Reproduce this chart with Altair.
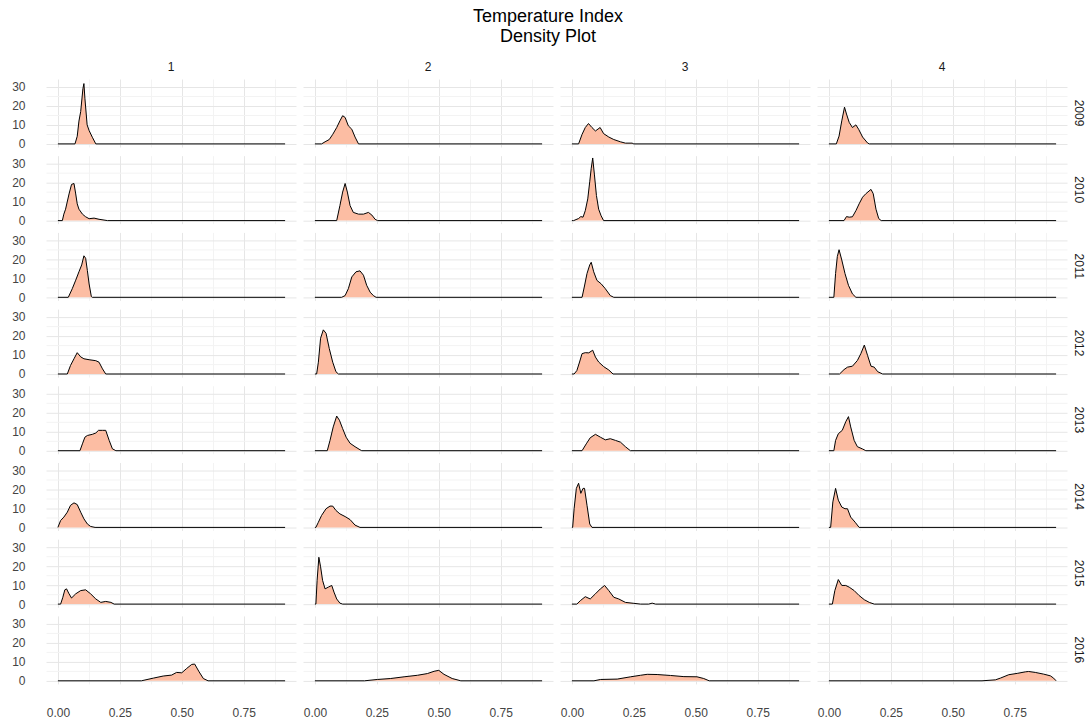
import altair as alt
import pandas as pd

YEARS = [2009, 2010, 2011, 2012, 2013, 2014, 2015, 2016]
QUARTERS = [1, 2, 3, 4]
XMIN, XMAX = 0.0, 0.917

# density curves: (x, density) per year / quarter
X_2009_1 = [0.069, 0.078, 0.085, 0.092, 0.101, 0.105, 0.109, 0.118, 0.126, 0.139, 0.153]
Y_2009_1 = [0, 4, 12, 17, 29, 31.7, 24, 10, 7, 3.5, 0]
X_2009_2 = [0.027, 0.041, 0.058, 0.072, 0.088, 0.101, 0.112, 0.122, 0.135, 0.149, 0.162, 0.176]
Y_2009_2 = [0, 1.1, 2.3, 5, 8.6, 12.1, 14.8, 13.9, 9.5, 7.7, 3.6, 0]
X_2009_3 = [0.027, 0.041, 0.054, 0.067, 0.081, 0.095, 0.114, 0.128, 0.149, 0.169, 0.196, 0.216, 0.243, 0.25]
Y_2009_3 = [0, 5, 8.6, 10.7, 8.6, 6.8, 8.6, 5.4, 3.6, 2.3, 1.1, 0.4, 0.4, 0]
X_2009_4 = [0.03, 0.041, 0.052, 0.063, 0.071, 0.082, 0.095, 0.109, 0.12, 0.136, 0.156, 0.163]
Y_2009_4 = [0, 4.1, 12.1, 19.3, 15.7, 11.3, 8.6, 10, 7.7, 3.6, 0.5, 0]

X_2010_1 = [0.018, 0.024, 0.031, 0.045, 0.055, 0.065, 0.072, 0.078, 0.085, 0.099, 0.112, 0.126, 0.146, 0.166, 0.2]
Y_2010_1 = [0, 3.4, 6, 14, 19, 19.5, 14, 8.8, 6, 3.4, 2, 1, 1.3, 0.7, 0]
X_2010_2 = [0.088, 0.101, 0.112, 0.122, 0.131, 0.142, 0.155, 0.176, 0.196, 0.216, 0.23, 0.243, 0.253]
Y_2010_2 = [0, 7.9, 15, 19.5, 15, 7.9, 4.3, 3.4, 3.4, 4.3, 2.9, 0.7, 0]
X_2010_3 = [0.007, 0.027, 0.036, 0.045, 0.054, 0.064, 0.072, 0.078, 0.084, 0.091, 0.099, 0.108, 0.118, 0.128]
Y_2010_3 = [0, 1.1, 2.1, 1.8, 5.2, 11.4, 20.4, 27.5, 32.9, 24, 13.2, 6, 2.5, 0]
X_2010_4 = [0.061, 0.071, 0.082, 0.095, 0.109, 0.122, 0.136, 0.149, 0.17, 0.179, 0.19, 0.201, 0.211]
Y_2010_4 = [0, 2.1, 1.8, 2, 5.2, 8.8, 12.3, 14.1, 16.4, 14.1, 6, 1.1, 0]

X_2011_1 = [0.042, 0.058, 0.072, 0.085, 0.096, 0.105, 0.112, 0.119, 0.126, 0.135, 0.139]
Y_2011_1 = [0, 4.5, 9, 13.4, 17, 21.8, 20.5, 14, 7, 0.4, 0]
X_2011_2 = [0.108, 0.122, 0.135, 0.149, 0.166, 0.182, 0.196, 0.209, 0.223, 0.236, 0.247]
Y_2011_2 = [0, 0.9, 4.5, 10.7, 13.4, 13.9, 11.6, 6.3, 2.7, 0.9, 0]
X_2011_3 = [0.041, 0.05, 0.061, 0.072, 0.078, 0.088, 0.101, 0.118, 0.135, 0.155, 0.169]
Y_2011_3 = [0, 5.4, 12.5, 17, 18.4, 13.4, 8.9, 7.1, 4.5, 0.9, 0]
X_2011_4 = [0.02, 0.027, 0.034, 0.041, 0.052, 0.065, 0.079, 0.095, 0.109]
Y_2011_4 = [0, 12.5, 21.4, 25, 19.6, 12.5, 6.3, 1.8, 0]

X_2012_1 = [0.038, 0.051, 0.065, 0.078, 0.092, 0.105, 0.126, 0.153, 0.166, 0.18, 0.193]
Y_2012_1 = [0, 4.5, 8, 11.2, 9, 8, 7.5, 7, 6.2, 2.7, 0]
X_2012_2 = [0.007, 0.014, 0.023, 0.034, 0.045, 0.058, 0.072, 0.085, 0.095]
Y_2012_2 = [0, 6.2, 18.8, 23.2, 21.4, 13.4, 6.2, 1.2, 0]
X_2012_3 = [0.009, 0.02, 0.031, 0.041, 0.054, 0.068, 0.084, 0.095, 0.108, 0.128, 0.149, 0.166]
Y_2012_3 = [0, 1.8, 6.3, 10.7, 11.2, 11.1, 12.5, 8.9, 6.3, 3.9, 2.1, 0]
X_2012_4 = [0.043, 0.061, 0.075, 0.095, 0.115, 0.129, 0.143, 0.156, 0.17, 0.183, 0.197, 0.217]
Y_2012_4 = [0, 2.3, 3.6, 4.1, 7.1, 10.7, 15.2, 9.8, 4.1, 3.6, 1.2, 0]

X_2013_1 = [0.089, 0.099, 0.109, 0.119, 0.139, 0.153, 0.164, 0.18, 0.193, 0.207, 0.22, 0.234]
Y_2013_1 = [0, 3.6, 7.1, 8, 8.6, 9.3, 10.7, 10.7, 10.7, 5.4, 1, 0]
X_2013_2 = [0.05, 0.061, 0.074, 0.088, 0.099, 0.112, 0.126, 0.142, 0.162, 0.182, 0.189]
Y_2013_2 = [0, 5.4, 12.5, 18.2, 16, 11.6, 7.1, 3.9, 2.1, 0.5, 0]
X_2013_3 = [0.041, 0.058, 0.074, 0.095, 0.115, 0.135, 0.155, 0.176, 0.196, 0.216, 0.236]
Y_2013_3 = [0, 3.6, 6.8, 8.6, 7.1, 5.7, 6.3, 5.4, 4.5, 2.1, 0]
X_2013_4 = [0.02, 0.027, 0.038, 0.054, 0.068, 0.079, 0.088, 0.102, 0.115, 0.136, 0.149]
Y_2013_4 = [0, 5.4, 8.9, 10.7, 15.2, 17.9, 12.5, 5.4, 2.1, 0.9, 0]

X_2014_1 = [0.0, 0.011, 0.024, 0.038, 0.051, 0.065, 0.078, 0.092, 0.105, 0.119, 0.132, 0.15]
Y_2014_1 = [0, 3.6, 5.4, 8, 11.6, 12.9, 12, 8, 4.5, 1.8, 0.5, 0]
X_2014_2 = [0.004, 0.014, 0.027, 0.045, 0.061, 0.072, 0.085, 0.101, 0.122, 0.142, 0.162, 0.182]
Y_2014_2 = [0, 2.7, 6.3, 9.8, 11.2, 11.2, 8.9, 7.1, 5.7, 4.1, 1.2, 0]
X_2014_3 = [0.003, 0.009, 0.018, 0.027, 0.036, 0.045, 0.051, 0.061, 0.072, 0.081]
Y_2014_3 = [0, 9.8, 20.5, 23.2, 17.9, 20.5, 20.5, 11.6, 1.8, 0]
X_2014_4 = [0.007, 0.016, 0.027, 0.038, 0.052, 0.065, 0.075, 0.088, 0.106, 0.122]
Y_2014_4 = [0, 13.4, 20.5, 14.3, 10.7, 9.8, 9.8, 5.4, 2.7, 0]

X_2015_1 = [0.011, 0.02, 0.028, 0.035, 0.045, 0.055, 0.072, 0.092, 0.112, 0.132, 0.153, 0.173, 0.193, 0.214, 0.227]
Y_2015_1 = [0, 3.6, 7.5, 8, 5.4, 3.2, 5.4, 7.1, 7.5, 5.4, 2.7, 0.9, 1.4, 0.9, 0]
X_2015_2 = [0.004, 0.009, 0.016, 0.023, 0.031, 0.041, 0.054, 0.068, 0.077, 0.088, 0.101, 0.112]
Y_2015_2 = [0, 12.5, 24.6, 19.6, 12.5, 8, 8.9, 9.8, 6.3, 2.7, 0.5, 0]
X_2015_3 = [0.02, 0.034, 0.054, 0.074, 0.095, 0.115, 0.132, 0.149, 0.169, 0.189, 0.216, 0.25, 0.277, 0.31, 0.324, 0.338]
Y_2015_3 = [0, 1.8, 3.9, 2.7, 5.4, 8, 9.8, 7.1, 3.6, 2.7, 0.9, 0.4, 0, 0, 0.5, 0]
X_2015_4 = [0.014, 0.024, 0.038, 0.052, 0.068, 0.082, 0.102, 0.122, 0.143, 0.163, 0.183]
Y_2015_4 = [0, 7.1, 12.9, 9.8, 9.8, 8.9, 7.1, 4.5, 2.3, 0.9, 0]

X_2016_1 = [0.337, 0.385, 0.425, 0.459, 0.479, 0.5, 0.52, 0.54, 0.552, 0.57, 0.587, 0.606]
Y_2016_1 = [0, 1.4, 2.5, 3, 4.4, 4.2, 6.5, 8.6, 8.8, 4.7, 1.2, 0]
X_2016_2 = [0.2, 0.253, 0.306, 0.36, 0.414, 0.454, 0.481, 0.5, 0.521, 0.554, 0.589]
Y_2016_2 = [0, 0.7, 1.2, 2.1, 2.9, 3.8, 5, 5.5, 3.4, 1.2, 0]
X_2016_3 = [0.089, 0.116, 0.183, 0.237, 0.277, 0.304, 0.344, 0.398, 0.452, 0.505, 0.532, 0.554]
Y_2016_3 = [0, 0.7, 0.9, 2.1, 2.9, 3.4, 3.3, 2.8, 2.2, 2.1, 1.2, 0]
X_2016_4 = [0.618, 0.672, 0.692, 0.726, 0.76, 0.793, 0.806, 0.833, 0.867, 0.894, 0.907, 0.917]
Y_2016_4 = [0, 0.5, 1.4, 3.2, 3.9, 4.7, 4.9, 4.4, 3.5, 2.6, 1.4, 0]

rows = []
g = globals()
for yr in YEARS:
    for q in QUARTERS:
        xs = list(g[f"X_{yr}_{q}"])
        ys = list(g[f"Y_{yr}_{q}"])
        if xs[0] > XMIN:
            xs = [XMIN] + xs
            ys = [0] + ys
        if xs[-1] < XMAX:
            xs = xs + [XMAX]
            ys = ys + [0]
        for x, y in zip(xs, ys):
            rows.append({"year": yr, "quarter": q, "x": x, "y": y})
df = pd.DataFrame(rows)

PANEL_W, PANEL_H = 250, 68

x_enc = alt.X(
    "x:Q",
    scale=alt.Scale(domain=[-0.048, 0.961], nice=False, zero=False),
    axis=alt.Axis(
        title=None,
        values=[0, 0.125, 0.25, 0.375, 0.5, 0.625, 0.75, 0.875],
        labelExpr="round(datum.value*8) % 2 == 1 ? '' : format(datum.value, '.2f')",
        gridColor={"condition": {"test": "round(datum.value*8) % 2 == 1", "value": "#F3F3F3"}, "value": "#E6E6E6"},
        labelPadding=23,
        labelFlush=False,
        labelOverlap=False,
    ),
)
y_enc = alt.Y(
    "y:Q",
    scale=alt.Scale(domain=[-1.63, 34.1], nice=False, zero=False),
    axis=alt.Axis(
        title=None,
        values=[0, 5, 10, 15, 20, 25, 30],
        labelExpr="datum.value % 10 == 0 ? format(datum.value, 'd') : ''",
        gridColor={"condition": {"test": "datum.value % 10 != 0", "value": "#F3F3F3"}, "value": "#E6E6E6"},
        labelPadding=21,
        labelOverlap=False,
        labelFlush=False,
    ),
)

area = alt.Chart().mark_area(color="#FCBDA3", opacity=1, interpolate="linear").encode(x=x_enc, y=y_enc)
line = alt.Chart().mark_line(color="#000000", strokeWidth=1, interpolate="linear").encode(x=x_enc, y=y_enc)
# year strip labels, right of the last column
year_lbl = (
    alt.Chart()
    .mark_text(angle=90, align="center", baseline="middle", fontSize=12,
               font="Liberation Sans", color="#1A1A1A")
    .encode(x=alt.value(PANEL_W + 11.5), y=alt.value(PANEL_H / 2), text="year:O")
    .transform_filter("datum.x == 0 && datum.quarter == 4")
)

chart = (
    alt.layer(area, line, year_lbl, data=df)
    .properties(width=PANEL_W, height=PANEL_H)
    .facet(
        row=alt.Row("year:O", title=None, header=alt.Header(labels=False)),
        column=alt.Column(
            "quarter:O",
            title=None,
            header=alt.Header(labelOrient="top", labelPadding=5),
        ),
        spacing={"row": 8.7, "column": 7},
    )
    .properties(
        bounds="flush",
        title=alt.TitleParams(
            text=["Temperature Index", " Density Plot"],
            anchor="middle",
            fontSize=18,
            lineHeight=20,
            fontWeight="normal",
            color="#000000",
            font="Liberation Sans",
            offset=15,
        ),
        padding={"left": 11, "top": 8, "right": 0, "bottom": 0},
    )
    .configure_view(strokeWidth=0)
    .configure_axis(
        domain=False,
        ticks=False,
        labelFont="Liberation Sans",
        labelFontSize=12,
        labelColor="#444444",
        gridWidth=1,
    )
    .configure_header(
        labelFont="Liberation Sans",
        labelFontSize=12,
        labelColor="#1A1A1A",
    )
)

chart.save("out.html", embed_options={"renderer": "svg", "actions": False})
